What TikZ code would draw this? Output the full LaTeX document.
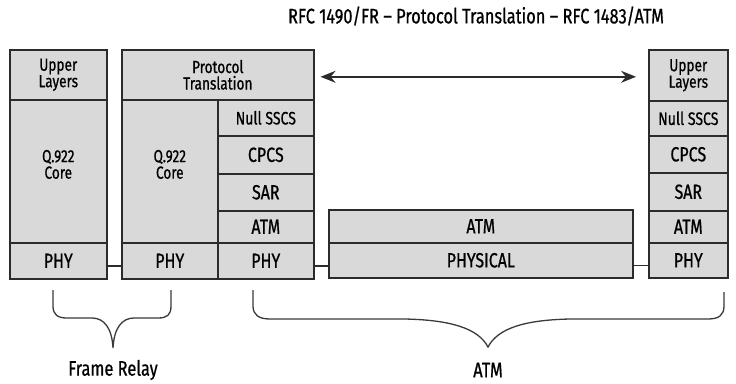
\documentclass[tikz,border=0pt]{standalone}
\usepackage{fontspec}
\setmainfont{Fira Sans}[FakeStretch=0.78, FakeBold=0.7]
\usetikzlibrary{arrows.meta}
\definecolor{cellfill}{HTML}{D9D9D9}
\definecolor{edge}{HTML}{2B2B2B}
\definecolor{bracecol}{HTML}{3A3A3A}
\tikzset{
  cell/.style={draw=edge, fill=cellfill, line width=1.6pt, anchor=north west,
    inner sep=0pt, align=center, text=black},
  big/.style={font=\fontsize{20.5}{20.5}\selectfont},
  mid/.style={font=\fontsize{18}{18}\selectfont},
  small/.style={font=\fontsize{17.5}{16.5}\selectfont},
  link/.style={draw=edge, line width=1.6pt},
  bracepath/.style={draw=bracecol, line width=1.3pt},
  caption/.style={font=\fontsize{21}{21}\selectfont, text=black}
}
\begin{document}
\begin{tikzpicture}[x=1pt, y=-1pt]
\useasboundingbox (0,0) rectangle (736,383);
\fill[white] (0,0) rectangle (736,383);

% title
\node[caption] (title) at (476,16) {RFC 1490/FR -- Protocol Translation -- RFC 1483/ATM};

% Frame Relay end station
\node[cell, small, minimum width=97pt, minimum height=50pt] (ulA) at (9,49) {Upper\\Layers};
\node[cell, small, minimum width=97pt, minimum height=143pt, text depth=14pt] (qA) at (9,99) {Q.922\\Core};
\node[cell, big, minimum width=97pt, minimum height=36pt] (phyA) at (9,242) {PHY};

% interworking device
\node[cell, small, minimum width=192pt, minimum height=50pt] (pt) at (121,49) {Protocol\\Translation};
\node[cell, small, minimum width=96pt, minimum height=143pt, text depth=14pt] (qB) at (121,99) {Q.922\\Core};
\node[cell, big, minimum width=96pt, minimum height=36pt] (phyB) at (121,242) {PHY};
\node[cell, mid, minimum width=96pt, minimum height=36pt] (nsB) at (217,99) {Null SSCS};
\node[cell, big, minimum width=96pt, minimum height=38pt] (cpcsB) at (217,135) {CPCS};
\node[cell, big, minimum width=96pt, minimum height=37pt] (sarB) at (217,173) {SAR};
\node[cell, big, minimum width=96pt, minimum height=32pt] (atmB) at (217,210) {ATM};
\node[cell, big, minimum width=96pt, minimum height=36pt] (phyC) at (217,242) {PHY};

% ATM network
\node[cell, big, minimum width=304pt, minimum height=33pt] (atmN) at (328,209) {ATM};
\node[cell, big, minimum width=304pt, minimum height=35pt] (phyN) at (328,242) {PHYSICAL};

% ATM end station
\node[cell, small, minimum width=79pt, minimum height=51pt] (ulD) at (648,49) {Upper\\Layers};
\node[cell, mid, minimum width=79pt, minimum height=35pt] (nsD) at (648,100) {Null SSCS};
\node[cell, big, minimum width=79pt, minimum height=37pt] (cpcsD) at (648,135) {CPCS};
\node[cell, big, minimum width=79pt, minimum height=38pt] (sarD) at (648,172) {SAR};
\node[cell, big, minimum width=79pt, minimum height=32pt] (atmD) at (648,210) {ATM};
\node[cell, big, minimum width=79pt, minimum height=35pt] (phyD) at (648,242) {PHY};

% physical links
\draw[link] ([yshift=-5pt]phyA.east) -- ([yshift=-5pt]phyA.east -| phyB.west);
\draw[link] ([yshift=-5pt]phyC.east) -- ([yshift=-5pt]phyC.east -| phyN.west);
\draw[link] ([yshift=-5pt]phyN.east) -- ([yshift=-5pt]phyN.east -| phyD.west);

% protocol translation arrow
\draw[draw=edge, line width=1.6pt, {Stealth[length=15pt,width=12pt,inset=5pt]}-{Stealth[length=15pt,width=12pt,inset=5pt]}, shorten <=6pt, shorten >=12pt]
  ([yshift=-2pt]pt.east) -- ([yshift=-2pt]pt.east -| ulD.west);

% braces under the stacks
\coordinate (frTip) at (113,348);
\coordinate (atmTip) at (488,347);
\draw[bracepath] (53,290) -- (53,306) .. controls (53,315) and (58,318) .. (67,318)
  -- (92,318) .. controls (104,318) and (112,328) .. (frTip)
  .. controls (114,328) and (122,318) .. (134,318)
  -- (158,318) .. controls (167,318) and (171,315) .. (171,306) -- (171,290);
\draw[bracepath] (253,290) -- (253,306) .. controls (253,315) and (259,319) .. (270,319)
  -- (405,319) .. controls (450,320) and (478,328) .. (atmTip)
  .. controls (498,328) and (525,320) .. (570,319)
  -- (708,319) .. controls (719,319) and (724,315) .. (724,306) -- (724,292);
\node[caption] (fr) at (113,370) {Frame Relay};
\node[caption] (atmL) at (488,370) {ATM};
\end{tikzpicture}
\end{document}
